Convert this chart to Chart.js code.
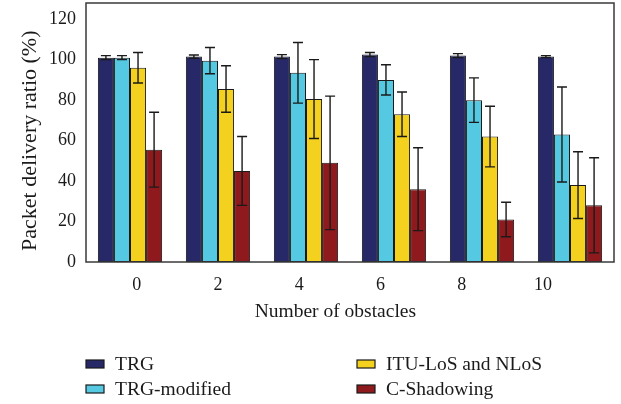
<!DOCTYPE html>
<html>
<head>
<meta charset="utf-8">
<script src="https://cdn.jsdelivr.net/npm/chart.js@4.4.1/dist/chart.umd.min.js"></script>
<style>
  html, body { margin: 0; padding: 0; background: #ffffff; }
  canvas { display: block; }
</style>
</head>
<body>
<canvas id="c" width="621" height="404"></canvas>
<script>
// ---- data ----
const categories = ['0', '2', '4', '6', '8', '10'];
const seriesNames = ['TRG', 'TRG-modified', 'ITU-LoS and NLoS', 'C-Shadowing'];
const trgValues        = [101, 101.5, 101.5, 102.5, 102, 101.5];
const trgErrors        = [1, 0.8, 1, 1, 1, 0.5];
const trgModValues     = [101, 99.5, 93.5, 90, 80, 63];
const trgModErrors     = [1, 6.5, 15, 7.5, 11, 23.5];
const ituValues        = [96, 85.5, 80.5, 73, 62, 38];
const ituErrors        = [7.5, 11.5, 19.5, 11, 15, 16.5];
const shadowValues     = [55.5, 45, 49, 36, 21, 28];
const shadowErrors     = [18.5, 17, 33, 20.5, 8.5, 23.5];
const yTickValues      = [0, 20, 40, 60, 80, 100, 120];
const xTickValues      = [0, 2, 4, 6, 8, 10];

const colors = ['#262867', '#55c9e1', '#f4d11f', '#8e1a1e'];
const FONT = 'Liberation Serif';
Chart.defaults.font.family = FONT;
Chart.defaults.color = '#1a1a1a';

const valueSets = [trgValues, trgModValues, ituValues, shadowValues];
const errorSets = [trgErrors, trgModErrors, ituErrors, shadowErrors];

const datasets = seriesNames.map((name, i) => ({
  label: name,
  data: valueSets[i],
  errors: errorSets[i],
  backgroundColor: colors[i],
  borderColor: '#1a1a1a',
  borderWidth: 1,
  borderSkipped: false,
  categoryPercentage: 0.73,
  barPercentage: 1.0,
  xAxisID: 'x',
  yAxisID: 'y'
}));

const errorBarPlugin = {
  id: 'errorBars',
  afterDatasetsDraw(chart) {
    const ctx = chart.ctx;
    const y = chart.scales.y;
    ctx.save();
    ctx.strokeStyle = '#1a1a1a';
    ctx.lineWidth = 1.4;
    chart.data.datasets.forEach((ds, di) => {
      const meta = chart.getDatasetMeta(di);
      meta.data.forEach((bar, i) => {
        const v = ds.data[i], e = ds.errors[i];
        const x = bar.x;
        const yTop = y.getPixelForValue(v + e);
        const yBot = y.getPixelForValue(v - e);
        const cap = 5;
        ctx.beginPath();
        ctx.moveTo(x, yTop); ctx.lineTo(x, yBot);
        ctx.moveTo(x - cap, yTop); ctx.lineTo(x + cap, yTop);
        ctx.moveTo(x - cap, yBot); ctx.lineTo(x + cap, yBot);
        ctx.stroke();
      });
    });
    ctx.restore();
  }
};

const framePlugin = {
  id: 'frame',
  afterDraw(chart) {
    const a = chart.chartArea;
    const ctx = chart.ctx;
    ctx.save();
    ctx.strokeStyle = '#3a3a3a';
    ctx.lineWidth = 1.5;
    ctx.strokeRect(a.left, a.top, a.right - a.left, a.bottom - a.top);
    ctx.restore();
  }
};

const legendPlugin = {
  id: 'customLegend',
  afterDraw(chart) {
    const ctx = chart.ctx;
    const a = chart.chartArea;
    const cols = [a.left, a.left + 271];
    const rows = [chart.height - 40, chart.height - 15];
    ctx.save();
    ctx.font = '19.5px "' + FONT + '"';
    ctx.textBaseline = 'middle';
    ctx.textAlign = 'left';
    chart.data.datasets.forEach((ds, i) => {
      const cx = cols[Math.floor(i / 2)];
      const cy = rows[i % 2];
      ctx.fillStyle = ds.backgroundColor;
      ctx.fillRect(cx, cy - 4, 18, 8);
      ctx.strokeStyle = '#1a1a1a';
      ctx.lineWidth = 1.2;
      ctx.strokeRect(cx, cy - 4, 18, 8);
      ctx.fillStyle = '#1a1a1a';
      ctx.fillText(ds.label, cx + 29, cy + 1);
    });
    ctx.restore();
  }
};

new Chart(document.getElementById('c'), {
  type: 'bar',
  data: { labels: categories, datasets },
  options: {
    responsive: false,
    animation: false,
    devicePixelRatio: 1,
    layout: { padding: { top: 3, right: 7, left: 0, bottom: 80 } },
    plugins: { legend: { display: false }, tooltip: { enabled: false } },
    scales: {
      x: {
        type: 'category',
        display: false,
        offset: true
      },
      x2: {
        type: 'linear',
        position: 'bottom',
        bounds: 'data',
        offset: false,
        min: -1.25,
        max: 11.75,
        grid: { display: false, drawTicks: false, offset: false },
        border: { display: false },
        afterBuildTicks(scale) { scale.ticks = xTickValues.map(v => ({ value: v })); },
        afterFit(scale) { scale.height = 62; scale.paddingLeft = 0; scale.paddingRight = 0; },
        ticks: { font: { size: 18 }, padding: 12, maxRotation: 0, color: '#1a1a1a' },
        title: { display: true, text: 'Number of obstacles      ', font: { size: 19.5 }, padding: { top: 11, bottom: 0 }, color: '#1a1a1a' }
      },
      y: {
        type: 'linear',
        min: 0,
        max: 128,
        grid: { display: false, drawTicks: false },
        border: { display: false },
        afterBuildTicks(scale) { scale.ticks = yTickValues.map(v => ({ value: v })); },
        afterFit(scale) { scale.width = 86; scale.paddingTop = 0; scale.paddingBottom = 0; },
        ticks: { font: { size: 18 }, padding: 10, color: '#1a1a1a' },
        title: { display: true, text: 'Packet delivery ratio (%)   ', font: { size: 22 }, padding: { top: 17, bottom: 0 }, color: '#1a1a1a' }
      }
    }
  },
  plugins: [errorBarPlugin, framePlugin, legendPlugin]
});
</script>
</body>
</html>
